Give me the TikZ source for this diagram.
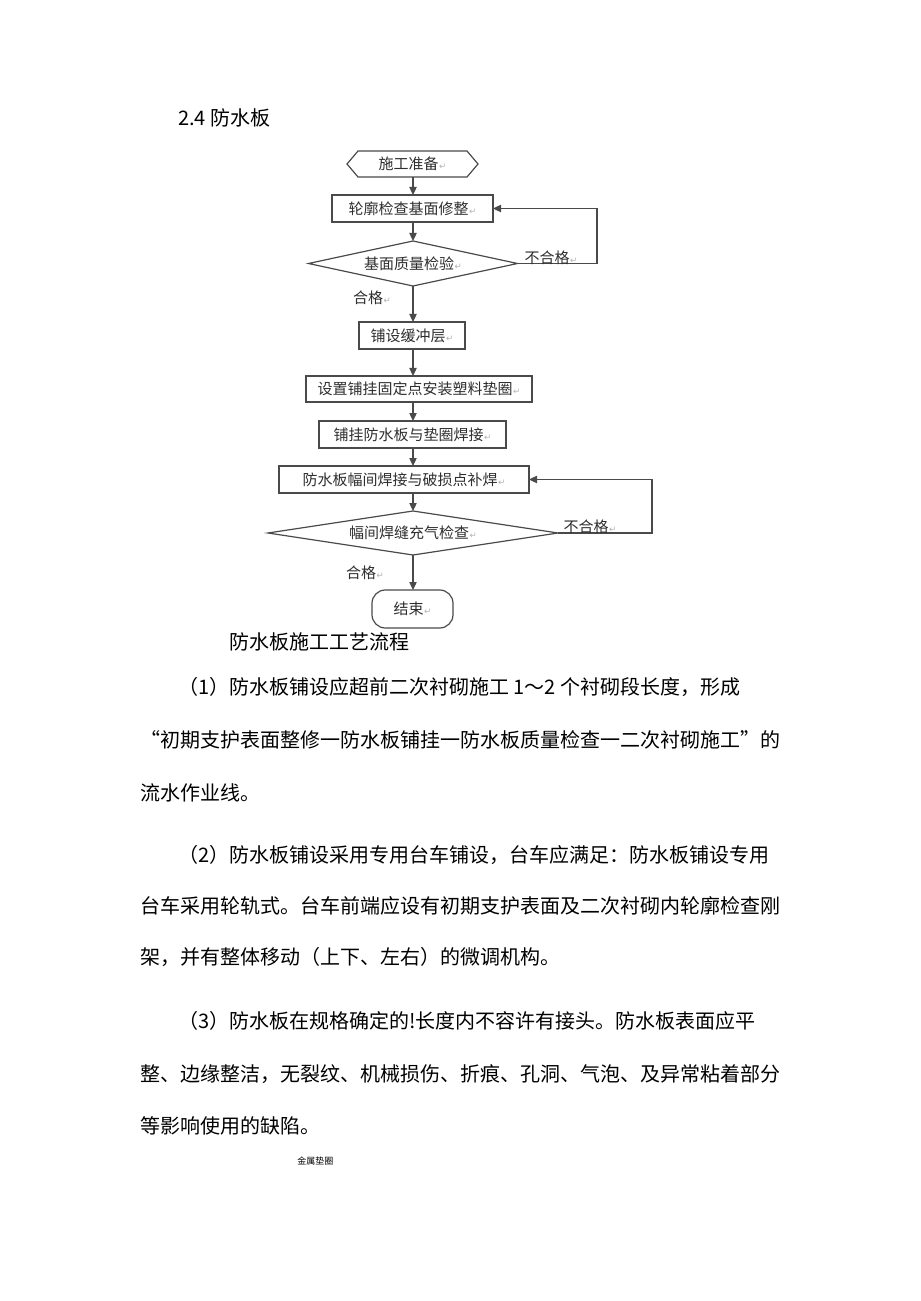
\documentclass[tikz,border=0pt]{standalone}
\usepackage{fontspec}
\setmainfont{Noto Sans CJK SC}
\newfontfamily\dvfont{DejaVu Sans}
\usetikzlibrary{arrows.meta,calc}
\definecolor{lc}{HTML}{4A4A4A}
\definecolor{tc}{HTML}{2E2E2E}
\newcommand\retmark{\hspace{0.5pt}{\dvfont\fontsize{6.5}{7}\selectfont\textcolor{gray!60}{↵}}}
\begin{document}
\begin{tikzpicture}[x=0.75pt,y=-0.75pt,
  fl/.style={draw=lc, line width=0.9pt},
  arr/.style={draw=lc, line width=0.9pt, -{Triangle[length=6pt,width=5.5pt]}},
  ft/.style={font=\fontsize{11.25}{13}\selectfont, text=tc, inner sep=0pt, outer sep=0pt},
  bx/.style={ft, draw=lc, line width=0.9pt},
  shp/.style={ft},
  bt/.style={font=\fontsize{15}{18}\selectfont, anchor=west, inner sep=0pt, text=black},
]
\path[use as bounding box, fill=white] (0,0) rectangle (920,1301);
\coordinate (sp) at (413,0);

% title
\node[bt] (ttl) at (178,118) {2.4 防水板};

% flowchart nodes
\node[shp, minimum width=98.25pt, minimum height=19.5pt] (n0) at (412.5,164) {施工准备\retmark};
\draw[fl] (n0.west) -- ($(n0.north west)+(11,0)$) -- ($(n0.north east)+(-11,0)$) -- (n0.east)
  -- ($(n0.south east)+(-11,0)$) -- ($(n0.south west)+(11,0)$) -- cycle;

\node[bx, minimum width=120.75pt, minimum height=20.25pt] (n1) at (412.5,208.5) {轮廓检查基面修整\retmark};

\node[shp, minimum width=156.75pt, minimum height=33.75pt] (d1) at (413,263.5) {基面质量检验\retmark};
\draw[fl] (d1.north) -- (d1.east) -- (d1.south) -- (d1.west) -- cycle;

\node[bx, minimum width=79.5pt, minimum height=20.25pt] (n2) at (412,335.5) {铺设缓冲层\retmark};
\node[bx, minimum width=169.5pt, minimum height=19.5pt] (n3) at (419,389) {设置铺挂固定点安装塑料垫圈\retmark};
\node[bx, minimum width=140.25pt, minimum height=20.25pt] (n4) at (412.5,434.5) {铺挂防水板与垫圈焊接\retmark};
\node[bx, minimum width=187.5pt, minimum height=20.25pt] (n5) at (404,479.5) {防水板幅间焊接与破损点补焊\retmark};

\node[shp, minimum width=217.5pt, minimum height=33pt] (d2) at (413,533) {幅间焊缝充气检查\retmark};
\draw[fl] (d2.north) -- (d2.east) -- (d2.south) -- (d2.west) -- cycle;

\node[bx, rounded corners=10pt, minimum width=60.75pt, minimum height=28.5pt] (n6) at (412.5,609) {结束\retmark};

% connectors
\draw[arr] (n0.south -| sp) -- (n1.north -| sp);
\draw[arr] (n1.south -| sp) -- (d1.north -| sp);
\draw[arr] (d1.south -| sp) -- (n2.north -| sp);
\draw[arr] (n2.south -| sp) -- (n3.north -| sp);
\draw[arr] (n3.south -| sp) -- (n4.north -| sp);
\draw[arr] (n4.south -| sp) -- (n5.north -| sp);
\draw[arr] (n5.south -| sp) -- (d2.north -| sp);
\draw[arr] (d2.south -| sp) -- (n6.north -| sp);
\draw[arr] (d1.east) -- ++(79.5,0) |- (n1.east);
\draw[arr] (d2.east) -- ++(94,0) |- (n5.east);

% branch labels
\node[ft] (l1) at (551,258) {不合格\retmark};
\node[ft] (l2) at (372,298) {合格\retmark};
\node[ft] (l3) at (590,527) {不合格\retmark};
\node[ft] (l4) at (365,573) {合格\retmark};

% caption
\node[bt] (cap) at (229,642) {防水板施工工艺流程};

% body text
\node[bt] (p1a) at (178,687) {（1）防水板铺设应超前二次衬砌施工 1～2 个衬砌段长度，形成};
\node[bt] (p1b) at (140,740) {“初期支护表面整修一防水板铺挂一防水板质量检查一二次衬砌施工”的};
\node[bt] (p1c) at (140,793) {流水作业线。};
\node[bt] (p2a) at (178,855) {（2）防水板铺设采用专用台车铺设，台车应满足：防水板铺设专用};
\node[bt] (p2b) at (140,906) {台车采用轮轨式。台车前端应设有初期支护表面及二次衬砌内轮廓检查刚};
\node[bt] (p2c) at (140,957) {架，并有整体移动（上下、左右）的微调机构。};
\node[bt] (p3a) at (178,1021) {（3）防水板在规格确定的!长度内不容许有接头。防水板表面应平};
\node[bt] (p3b) at (140,1074) {整、边缘整洁，无裂纹、机械损伤、折痕、孔洞、气泡、及异常粘着部分};
\node[bt] (p3c) at (140,1126) {等影响使用的缺陷。};
\node[bt, font=\fontsize{6.75}{8}\selectfont] (small) at (297,1161) {金属垫圈};
\end{tikzpicture}
\end{document}
